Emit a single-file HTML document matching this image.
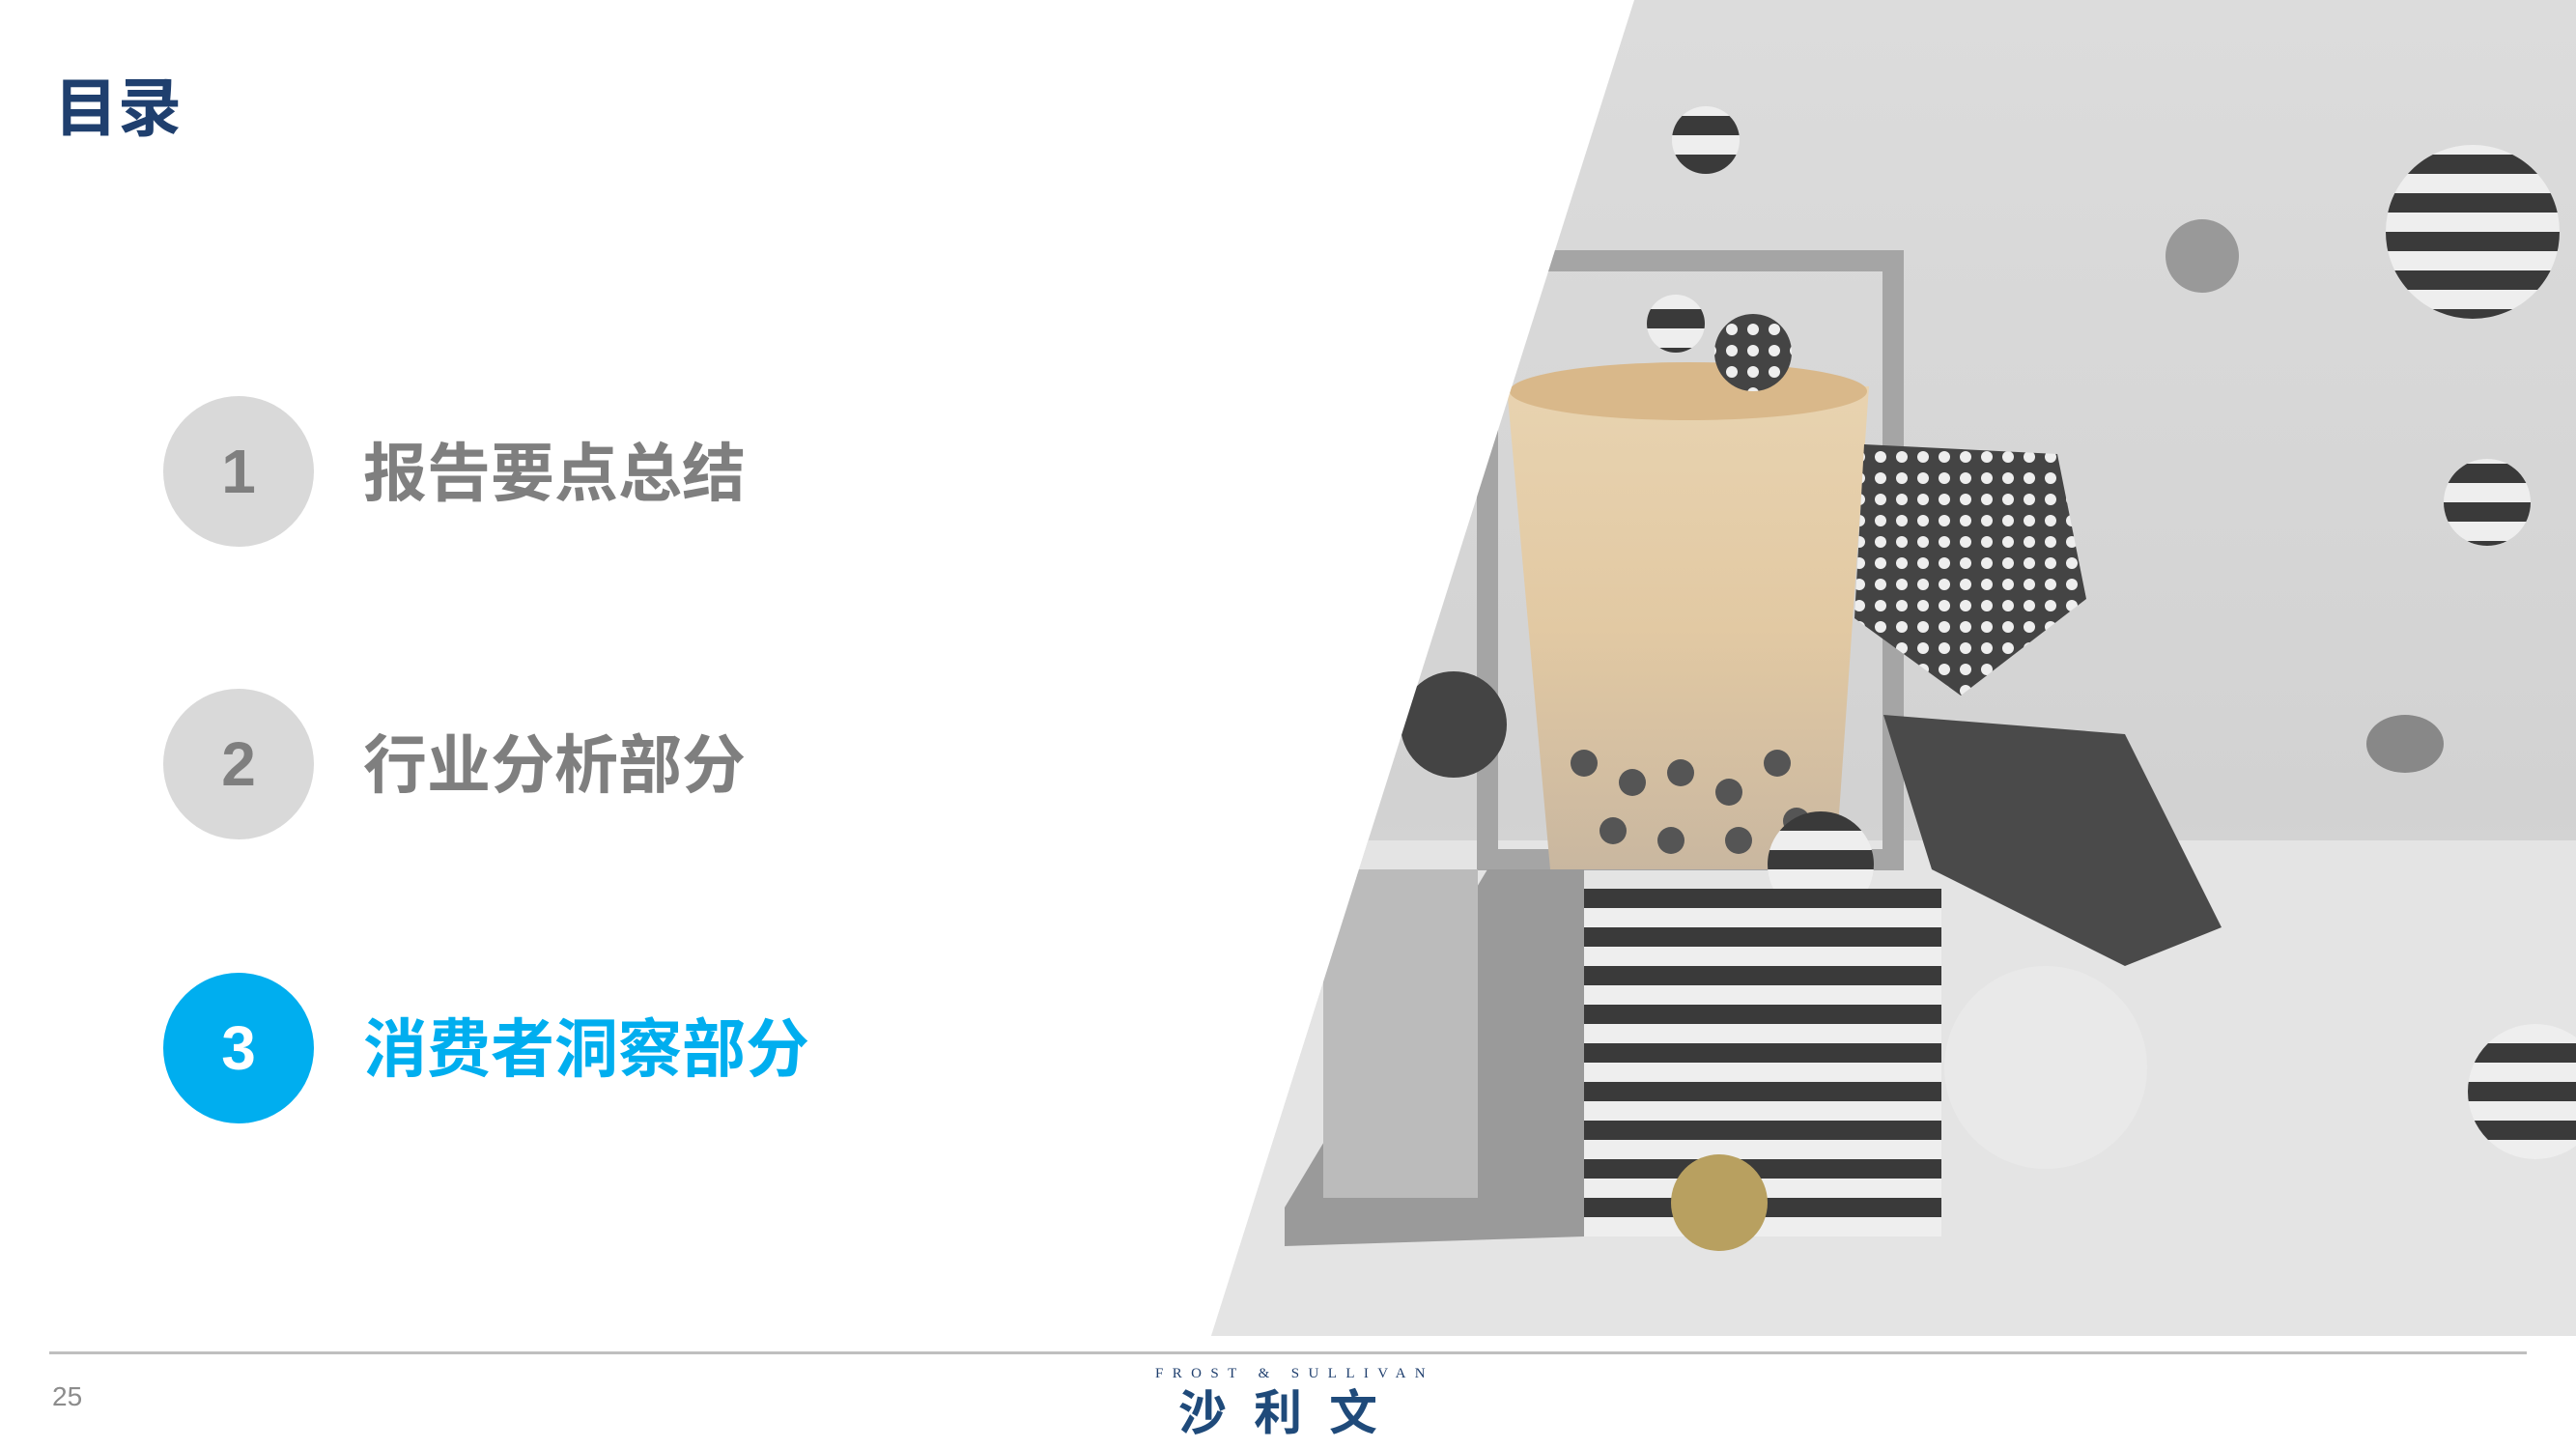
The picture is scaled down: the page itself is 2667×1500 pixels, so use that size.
<!DOCTYPE html>
<html><head><meta charset="utf-8"><style>
body{margin:0;width:2667px;height:1500px;background:#fff;position:relative;overflow:hidden;font-family:"Liberation Sans","Noto Sans CJK SC",sans-serif}
.abs{position:absolute}
.circ{position:absolute;width:156px;height:156px;border-radius:50%;background:#d9d9d9;color:#7f7f7f;font-weight:bold;font-size:64px;line-height:156px;text-align:center;left:169px}
.item{position:absolute;left:376px;font-size:66px;font-weight:bold;color:#7f7f7f;line-height:80px}
</style></head><body>
<div class="abs" style="left:56px;top:72px;font-size:66px;font-weight:bold;color:#1f3f6e;line-height:80px">目录</div>

<div class="circ" style="top:410px">1</div>
<div class="item" style="top:450px">报告要点总结</div>
<div class="circ" style="top:713px">2</div>
<div class="item" style="top:752px">行业分析部分</div>
<div class="circ" style="top:1007px;background:#00aeef;color:#fff">3</div>
<div class="item" style="top:1046px;color:#00aeef">消费者洞察部分</div>

<svg class="abs" style="left:0;top:0" width="2667" height="1400">
<defs>
<linearGradient id="bg" x1="0" y1="0" x2="0" y2="1"><stop offset="0" stop-color="#dcdcdc"/><stop offset="0.6" stop-color="#d2d2d2"/><stop offset="1" stop-color="#e6e6e6"/></linearGradient>
<linearGradient id="cup" x1="0" y1="0" x2="0" y2="1"><stop offset="0" stop-color="#e8d3b0"/><stop offset="0.5" stop-color="#e2c9a3"/><stop offset="1" stop-color="#c9b7a0"/></linearGradient>
<pattern id="st" width="40" height="40" patternUnits="userSpaceOnUse"><rect width="40" height="20" fill="#3a3a3a"/><rect y="20" width="40" height="20" fill="#eee"/></pattern>
<pattern id="dots" width="22" height="22" patternUnits="userSpaceOnUse"><rect width="22" height="22" fill="#444"/><circle cx="11" cy="11" r="6" fill="#eee"/></pattern>
<clipPath id="clip"><polygon points="1692,0 2667,0 2667,1383 1254,1383"/></clipPath>
</defs>
<g clip-path="url(#clip)">
<rect x="1200" y="0" width="1467" height="1400" fill="url(#bg)"/>
<rect x="1200" y="870" width="1467" height="530" fill="#e4e4e4"/>
<rect x="1540" y="270" width="420" height="620" fill="none" stroke="#a5a5a5" stroke-width="22"/>
<rect x="1590" y="920" width="420" height="360" fill="url(#st)"/>
<polygon points="1330,1250 1540,900 1640,900 1640,1280 1330,1290" fill="#9a9a9a"/>
<polygon points="1560,400 1935,400 1900,900 1605,900" fill="url(#cup)"/>
<ellipse cx="1748" cy="405" rx="185" ry="30" fill="#d9b88a"/>
<g fill="#555"><circle cx="1640" cy="790" r="14"/><circle cx="1690" cy="810" r="14"/><circle cx="1740" cy="800" r="14"/><circle cx="1790" cy="820" r="14"/><circle cx="1840" cy="790" r="14"/><circle cx="1670" cy="860" r="14"/><circle cx="1730" cy="870" r="14"/><circle cx="1800" cy="870" r="14"/><circle cx="1860" cy="850" r="14"/></g>
<polygon points="1930,460 2130,470 2160,620 2030,720 1920,640" fill="url(#dots)"/>
<polygon points="1950,740 2200,760 2300,960 2200,1000 2000,900" fill="#4a4a4a"/>
<circle cx="2118" cy="1105" r="105" fill="#e9e9e9"/>
<circle cx="2560" cy="240" r="90" fill="url(#st)"/>
<circle cx="2625" cy="1130" r="70" fill="url(#st)"/>
<circle cx="1885" cy="895" r="55" fill="url(#st)"/>
<circle cx="1766" cy="145" r="35" fill="url(#st)"/>
<circle cx="2575" cy="520" r="45" fill="url(#st)"/>
<circle cx="1815" cy="365" r="40" fill="url(#dots)"/>
<circle cx="1735" cy="335" r="30" fill="url(#st)"/>
<circle cx="1780" cy="1245" r="50" fill="#b8a060"/>
<circle cx="2280" cy="265" r="38" fill="#999"/>
<ellipse cx="2490" cy="770" rx="40" ry="30" fill="#888"/>
<circle cx="1505" cy="750" r="55" fill="#444"/>
<rect x="1370" y="900" width="160" height="340" fill="#bbb"/>
</g>
</svg>

<div class="abs" style="left:51px;top:1399px;width:2565px;height:3px;background:#bfbfbf"></div>
<div class="abs" style="left:54px;top:1430px;font-size:28px;color:#8c8c8c">25</div>
<div class="abs" style="left:1196px;top:1414px;font-family:'Liberation Serif',serif;font-size:15px;letter-spacing:9.4px;color:#1f3f6e;white-space:nowrap">FROST &amp; SULLIVAN</div>
<div class="abs" style="left:1220px;top:1434px;font-size:50px;font-weight:bold;letter-spacing:28px;color:#1f4a7a;line-height:58px;white-space:nowrap">沙利文</div>
</body></html>
